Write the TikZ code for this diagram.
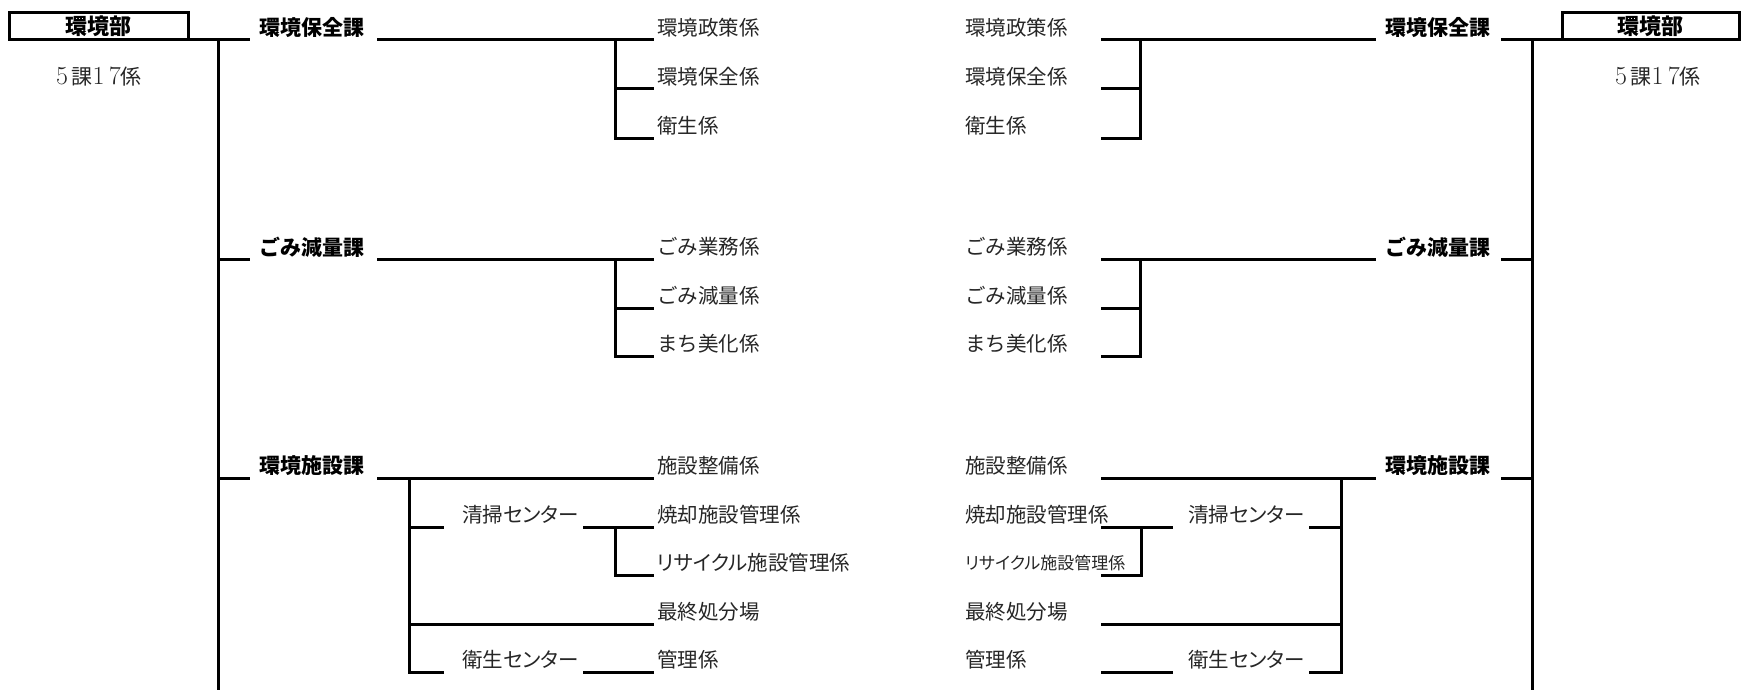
\documentclass[tikz,border=0pt]{standalone}
\usepackage{fontspec}
\newfontfamily\jp{Noto Sans CJK JP}
\newfontfamily\jpp{Noto Sans CJK JP}[RawFeature=+palt]
\newcommand{\dg}[1]{{\fontsize{26}{28}\selectfont #1}}
\begin{document}
\begin{tikzpicture}[x=1pt,y=-1pt,
  ln/.style={line width=3pt, line cap=rect},
  ka/.style={font=\jp\bfseries\fontsize{21}{25}\selectfont, anchor=west, inner sep=0pt},
  kk/.style={font=\jp\fontsize{20.5}{25}\selectfont, anchor=west, inner sep=0pt, text=black!85},
  kp/.style={font=\jpp\fontsize{20.5}{25}\selectfont, anchor=west, inner sep=0pt, text=black!85},
  bx/.style={draw, line width=3pt, inner sep=0pt, outer sep=0pt, minimum height=27pt, font=\jp\bfseries\fontsize{22}{26}\selectfont},
  nt/.style={font=\fontsize{21}{25}\selectfont, inner sep=0pt, text=black!85}]
\useasboundingbox (0,0) rectangle (1744,690);

% ---------------- LEFT ----------------
\node[bx, minimum width=179pt] (boxL) at (98.5,26.5) {環境部};
\node[nt] (cntL) at (99,77) {\dg{5}\,{\jp 課}\dg{1\,7}{\jp 係}};
\coordinate (spLt) at (218,40); \coordinate (spLb) at (218,690);
\coordinate (L0e) at (248,40);
\draw[ln] (boxL.south east) -- (L0e);
\draw[ln] (spLt) -- (spLb);

% block 1
\node[ka] (L1) at (259,28) {環境保全課};
\node[kk] (L1a) at (657,28) {環境政策係};
\node[kk] (L1b) at (657,77) {環境保全係};
\node[kk] (L1c) at (657,126) {衛生係};
\coordinate (L1s) at (378,40); \coordinate (L1e) at (652,40);
\coordinate (L1v) at (615,40);
\coordinate (L1be) at (652,89); \coordinate (L1ce) at (652,138);
\draw[ln] (L1s) -- (L1e);
\draw[ln] (L1v) |- (L1ce);
\draw[ln] (L1v |- L1be) -- (L1be);

% block 2
\coordinate (L2st) at (218,259); \coordinate (L2sE) at (248,259);
\draw[ln] (L2st) -- (L2sE);
\node[ka] (L2) at (259,247) {ごみ減量課};
\node[kk] (L2a) at (657,247) {ごみ業務係};
\node[kk] (L2b) at (657,296) {ごみ減量係};
\node[kk] (L2c) at (657,344) {まち美化係};
\coordinate (L2s) at (378,259); \coordinate (L2e) at (652,259);
\coordinate (L2v) at (615,259);
\coordinate (L2be) at (652,308); \coordinate (L2ce) at (652,356);
\draw[ln] (L2s) -- (L2e);
\draw[ln] (L2v) |- (L2ce);
\draw[ln] (L2v |- L2be) -- (L2be);

% block 3
\coordinate (L3st) at (218,478); \coordinate (L3sE) at (248,478);
\draw[ln] (L3st) -- (L3sE);
\node[ka] (L3) at (259,466) {環境施設課};
\node[kk] (L3a) at (657,466) {施設整備係};
\node[kk] (L3b) at (657,515) {焼却施設管理係};
\node[kp] (L3c) at (657,563) {リサイクル施設管理係};
\node[kk] (L3d) at (657,612) {最終処分場};
\node[kk] (L3e) at (657,660) {管理係};
\node[kp] (L3sc) at (462,515) {清掃センター};
\node[kp] (L3ec) at (462,660) {衛生センター};
\coordinate (L3s) at (378,478); \coordinate (L3e1) at (652,478);
\draw[ln] (L3s) -- (L3e1);
\coordinate (L3v) at (409,478); \coordinate (L3vb) at (409,672);
\draw[ln] (L3v) -- (L3vb);
\coordinate (L3scl) at (442,527); \coordinate (L3scr) at (584,527); \coordinate (L3sce) at (652,527);
\draw[ln] (L3v |- L3scl) -- (L3scl);
\draw[ln] (L3scr) -- (L3sce);
\coordinate (L3sv) at (615,527); \coordinate (L3rce) at (652,575);
\draw[ln] (L3sv) |- (L3rce);
\coordinate (L3de) at (652,624);
\draw[ln] (L3v |- L3de) -- (L3de);
\coordinate (L3ecl) at (442,672); \coordinate (L3ecr) at (584,672); \coordinate (L3ece) at (652,672);
\draw[ln] (L3vb) -- (L3ecl);
\draw[ln] (L3ecr) -- (L3ece);

% ---------------- RIGHT ----------------
\node[bx, minimum width=177pt] (boxR) at (1650.5,26.5) {環境部};
\node[nt] (cntR) at (1658,77) {\dg{5}\,{\jp 課}\dg{1\,7}{\jp 係}};
\coordinate (spRt) at (1532,40); \coordinate (spRb) at (1532,690);
\coordinate (R0s) at (1502,40);
\draw[ln] (R0s) -- (boxR.south west);
\draw[ln] (spRt) -- (spRb);

% block 1
\node[ka] (R1) at (1385,28) {環境保全課};
\node[kk] (R1a) at (965,28) {環境政策係};
\node[kk] (R1b) at (965,77) {環境保全係};
\node[kk] (R1c) at (965,126) {衛生係};
\coordinate (R1s) at (1102,40); \coordinate (R1e) at (1374,40);
\coordinate (R1v) at (1140,40);
\coordinate (R1be) at (1102,89); \coordinate (R1ce) at (1102,138);
\draw[ln] (R1s) -- (R1e);
\draw[ln] (R1v) |- (R1ce);
\draw[ln] (R1v |- R1be) -- (R1be);

% block 2
\coordinate (R2st) at (1502,259); \coordinate (R2sE) at (1532,259);
\draw[ln] (R2st) -- (R2sE);
\node[ka] (R2) at (1385,247) {ごみ減量課};
\node[kk] (R2a) at (965,247) {ごみ業務係};
\node[kk] (R2b) at (965,296) {ごみ減量係};
\node[kk] (R2c) at (965,344) {まち美化係};
\coordinate (R2s) at (1102,259); \coordinate (R2e) at (1374,259);
\coordinate (R2v) at (1140,259);
\coordinate (R2be) at (1102,308); \coordinate (R2ce) at (1102,356);
\draw[ln] (R2s) -- (R2e);
\draw[ln] (R2v) |- (R2ce);
\draw[ln] (R2v |- R2be) -- (R2be);

% block 3
\coordinate (R3st) at (1502,478); \coordinate (R3sE) at (1532,478);
\draw[ln] (R3st) -- (R3sE);
\node[ka] (R3) at (1385,466) {環境施設課};
\node[kk] (R3a) at (965,466) {施設整備係};
\node[kk] (R3b) at (965,515) {焼却施設管理係};
\node[kp, font=\jpp\fontsize{17}{20}\selectfont] (R3c) at (965,563) {リサイクル施設管理係};
\node[kk] (R3d) at (965,612) {最終処分場};
\node[kk] (R3e) at (965,660) {管理係};
\node[kp] (R3sc) at (1188,515) {清掃センター};
\node[kp] (R3ec) at (1188,660) {衛生センター};
\coordinate (R3s) at (1102,478); \coordinate (R3e1) at (1374,478);
\draw[ln] (R3s) -- (R3e1);
\coordinate (R3v) at (1341,478); \coordinate (R3vb) at (1341,672);
\draw[ln] (R3v) -- (R3vb);
\coordinate (R3bl) at (1102,527); \coordinate (R3br) at (1171,527);
\draw[ln] (R3bl) -- (R3br);
\coordinate (R3sv) at (1141,527); \coordinate (R3ce) at (1102,575);
\draw[ln] (R3sv) |- (R3ce);
\coordinate (R3scr) at (1310,527);
\draw[ln] (R3scr) -- (R3v |- R3scr);
\coordinate (R3dl) at (1102,624);
\draw[ln] (R3dl) -- (R3v |- R3dl);
\coordinate (R3el) at (1102,672); \coordinate (R3er) at (1171,672);
\draw[ln] (R3el) -- (R3er);
\coordinate (R3ecr) at (1310,672);
\draw[ln] (R3ecr) -- (R3vb);
\end{tikzpicture}
\end{document}
